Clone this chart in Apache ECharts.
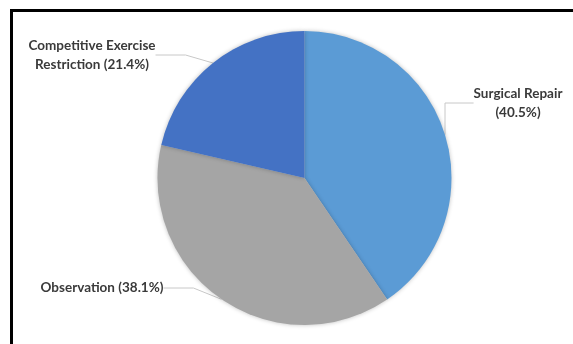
<!DOCTYPE html>
<html>
<head>
<meta charset="utf-8">
<script src="https://cdn.jsdelivr.net/npm/echarts@6/dist/echarts.min.js"></script>
<style>
  html, body { margin: 0; padding: 0; background: #fff; }
  #pieChart { width: 573px; height: 344px; }
</style>
</head>
<body>
<div id="pieChart"></div>
<script>
// chart data
var categories = ['Surgical Repair', 'Observation', 'Competitive Exercise Restriction'];
var labelTexts = ['Surgical Repair\n(40.5%)', 'Observation (38.1%)', 'Competitive Exercise\nRestriction (21.4%)'];
var percents = [40.5, 38.1, 21.4];
var sliceColors = ['#5B9BD5', '#A5A5A5', '#4472C4'];

// where each label sits (center of text block)
var labelPos = [[518, 103], [102, 288], [92, 55]];

var pieData = categories.map(function (name, i) {
  return { name: name, value: percents[i], itemStyle: { color: sliceColors[i] } };
});

var chart = echarts.init(document.getElementById('pieChart'));
chart.setOption({
  animation: false,
  graphic: [{
    type: 'polyline',
    shape: { points: [[11.5, 344], [11.5, 10.5], [573, 10.5]] },
    style: { stroke: '#000', lineWidth: 3, fill: null },
    z: 10
  }],
  series: [{
    type: 'pie',
    center: [304.5, 178],
    radius: 147,
    startAngle: 90,
    clockwise: true,
    data: pieData,
    itemStyle: {
      borderWidth: 0,
      shadowBlur: 4,
      shadowColor: 'rgba(0,0,0,0.25)'
    },
    label: {
      show: true,
      formatter: function (p) { return labelTexts[p.dataIndex]; },
      fontFamily: 'Lato',
      fontWeight: 'bold',
      fontSize: 13.5,
      lineHeight: 19,
      color: '#3a3a3a',
      align: 'center',
      overflow: 'none'
    },
    labelLine: {
      show: true,
      lineStyle: { color: '#C8C8C8', width: 1 }
    },
    labelLayout: function (p) {
      var pos = labelPos[p.dataIndex];
      return { x: pos[0], y: pos[1], align: 'center', verticalAlign: 'middle' };
    }
  }]
});
</script>
</body>
</html>
